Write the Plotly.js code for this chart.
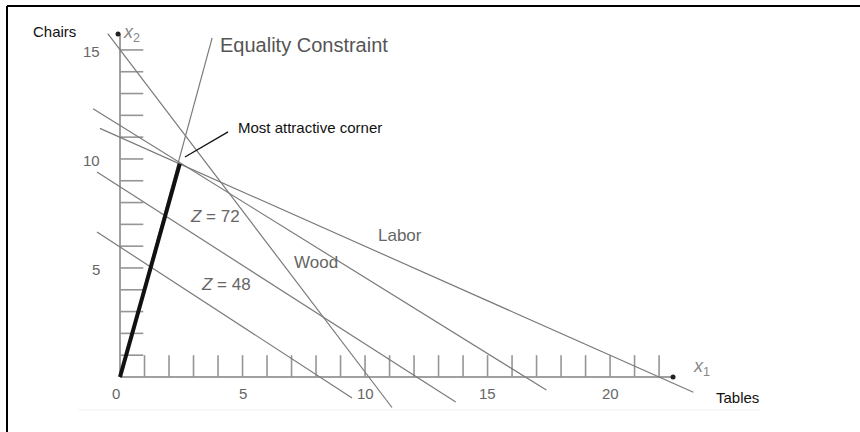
<!DOCTYPE html>
<html>
<head>
<meta charset="utf-8">
<script src="https://cdn.plot.ly/plotly-3.0.1.min.js"></script>
<style>html,body{margin:0;padding:0;background:#fff}</style>
</head>
<body>
<div id="chart" style="width:860px;height:432px"></div>
<script>
// line ends, in (tables, chairs)
const lineNames = ["Equality Constraint", "Wood", "Labor", "Z through corner", "Z = 72", "Z = 48"];
const lineX0 = [0, -0.5, -0.82, -1.1, -0.94, -0.94];
const lineY0 = [0, 15.75, 11.4, 12.3, 9.4, 6.65];
const lineX1 = [3.76, 11.1, 23.4, 17.4, 13.7, 9.47];
const lineY1 = [15.55, -1.4, -0.7, -0.6, -1.15, -0.96];

// bold segment: origin to the most attractive corner
const cornerX = [0, 2.44];
const cornerY = [0, 9.78];
// pointer from the label to the corner
const pointerX = [2.65, 4.41];
const pointerY = [10.09, 11.24];

// axes
const axisEndX = 22.57;
const axisEndY = 15.73;
const xTicks = [1, 2, 3, 4, 5, 6, 7, 8, 9, 10, 11, 12, 13, 14, 15, 16, 17, 18, 19, 20, 21, 22];
const yTicks = [1, 2, 3, 4, 5, 6, 7, 8, 9, 10, 11, 12, 13, 14, 15];
const xTickVals = [0, 5, 10, 15, 20];
const xTickText = ["0", "5", "10", "15", "20"];
const yTickVals = [5, 10, 15];
const yTickText = ["5", "10", "15"];

const grey = "#7a7a7a";
const traces = [];

// axis lines
traces.push({ x: [0, axisEndX], y: [0, 0], mode: "lines", line: { color: "#a0a0a0", width: 2 } });
traces.push({ x: [0, 0], y: [0, axisEndY], mode: "lines", line: { color: "#a0a0a0", width: 2 } });

// tick marks, one segment each, broken by nulls
const tx = [], ty = [];
xTicks.forEach(v => { tx.push(v, v, null); ty.push(0, 1.0, null); });
traces.push({ x: tx, y: ty, mode: "lines", line: { color: "#959595", width: 1.6 } });
const sx = [], sy = [];
yTicks.forEach(v => { sx.push(0, 0.95, null); sy.push(v, v, null); });
traces.push({ x: sx, y: sy, mode: "lines", line: { color: "#959595", width: 1.6 } });

// arrow dots at axis ends
traces.push({ x: [axisEndX, -0.08], y: [0, axisEndY], mode: "markers",
  marker: { color: "#222", size: 5 } });

// constraint and profit lines
lineNames.forEach((n, i) => {
  traces.push({ name: n, x: [lineX0[i], lineX1[i]], y: [lineY0[i], lineY1[i]],
    mode: "lines", line: { color: grey, width: 1.2 } });
});

traces.push({ x: cornerX, y: cornerY, mode: "lines", line: { color: "#111", width: 4 } });
traces.push({ x: pointerX, y: pointerY, mode: "lines", line: { color: "#111", width: 1.3 } });

const labelFont = { family: "Liberation Sans, Arial, sans-serif", size: 15, color: "#111" };
const greyFont = { family: "Liberation Sans, Arial, sans-serif", size: 17, color: "#666" };
const tickFont = { family: "Liberation Sans, Arial, sans-serif", size: 15, color: "#666" };
const varFont = { family: "Liberation Sans, Arial, sans-serif", size: 18, color: "#888" };

const ann = [];
function label(x, y, text, font, xanchor) {
  ann.push({ x: x, y: y, xref: "x", yref: "y", text: text, showarrow: false,
    font: font, xanchor: xanchor || "center", yanchor: "middle" });
}

xTickVals.forEach((v, i) => {
  ann.push({ x: v, y: 0, xref: "x", yref: "y", text: xTickText[i], showarrow: false,
    font: tickFont, xanchor: "center", yanchor: "middle", yshift: -17, xshift: v === 0 ? -4 : 0 });
});
yTickVals.forEach((v, i) => {
  ann.push({ x: 0, y: v, xref: "x", yref: "y", text: yTickText[i], showarrow: false,
    font: tickFont, xanchor: "right", yanchor: "middle", xshift: -18, yshift: -2 });
});

label(-2.69, 15.83, "Chairs", labelFont);
label(25.18, -0.96, "Tables", labelFont);
label(4.0, 15.23, "Equality Constraint", { family: "Liberation Sans, Arial, sans-serif", size: 20, color: "#555" }, "left");
label(4.73, 11.42, "Most attractive corner", labelFont, "left");
label(3.88, 7.34, "<i>Z</i> = 72", greyFont);
label(8.0, 5.23, "Wood", greyFont);
label(11.43, 6.47, "Labor", greyFont);
label(4.33, 4.22, "<i>Z</i> = 48", greyFont);
label(0.45, 15.75, "<i>x</i><sub>2</sub>", varFont);
label(23.72, 0.42, "<i>x</i><sub>1</sub>", varFont);

const layout = {
  width: 860,
  height: 432,
  margin: { l: 0, r: 0, t: 0, b: 0 },
  paper_bgcolor: "#fff",
  plot_bgcolor: "#fff",
  showlegend: false,
  hovermode: false,
  xaxis: { range: [-4.898, 30.2], visible: false, fixedrange: true },
  yaxis: { range: [-2.523, 17.29], visible: false, fixedrange: true },
  annotations: ann,
  shapes: [
    { type: "line", xref: "paper", yref: "paper", x0: 7 / 860, x1: 1, y0: 1 - 6 / 432, y1: 1 - 6 / 432,
      line: { color: "#000", width: 2 } },
    { type: "line", xref: "paper", yref: "paper", x0: 7 / 860, x1: 7 / 860, y0: 0, y1: 1 - 6 / 432,
      line: { color: "#000", width: 2 } },
    { type: "line", xref: "paper", yref: "paper", x0: 78 / 860, x1: 760 / 860, y0: 1 - 410 / 432, y1: 1 - 410 / 432,
      line: { color: "#f2f2f2", width: 1 } }
  ]
};

Plotly.newPlot("chart", traces, layout, { displayModeBar: false, staticPlot: true });
</script>
</body>
</html>
